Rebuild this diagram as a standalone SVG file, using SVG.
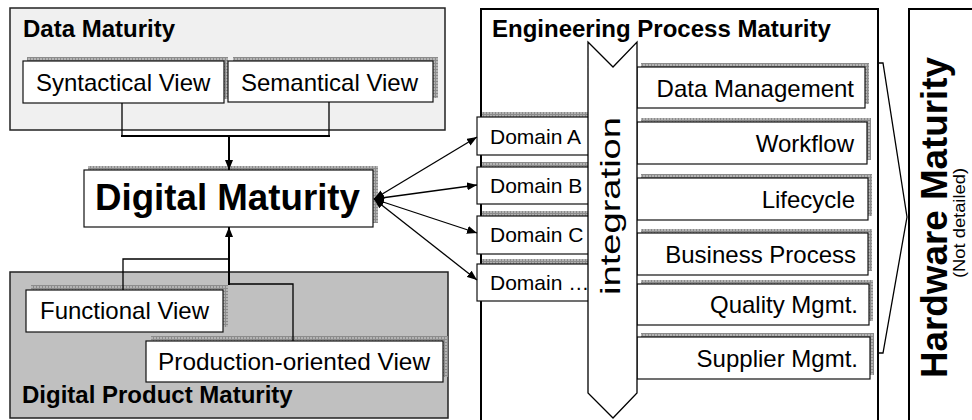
<svg xmlns="http://www.w3.org/2000/svg" width="972" height="420" viewBox="0 0 972 420">
<defs>
<pattern id="hatch" width="3" height="3" patternUnits="userSpaceOnUse">
<rect width="3" height="3" fill="#b4b4b4"/>
<rect width="1" height="3" fill="#8c8c8c"/>
<rect width="3" height="1" fill="#8c8c8c"/>
</pattern>
<marker id="ah" viewBox="0 0 10 8" refX="10" refY="4" markerWidth="10" markerHeight="8" markerUnits="userSpaceOnUse" orient="auto-start-reverse">
<path d="M0,0 L10,4 L0,8 z" fill="#000"/>
</marker>
<style>
.cont{stroke:#222;stroke-width:1.5}
.box{fill:#fff;stroke:#111;stroke-width:1.2}
.sh{fill:url(#hatch)}
.t{font-family:"Liberation Sans",Arial,sans-serif;font-size:24px;fill:#000}
.b{font-family:"Liberation Sans",Arial,sans-serif;font-weight:bold;font-size:24px;fill:#000}
.e{text-anchor:end}
.d{font-size:21px}
.ln{fill:none;stroke:#000;stroke-width:1.3}
.lt{fill:none;stroke:#000;stroke-width:2}
</style>
</defs>
<rect width="972" height="420" fill="#fff"/>

<g id="data-maturity">
<rect class="cont" x="10" y="8" width="435" height="122" fill="#f0f0f0"/>
<text class="b" x="23" y="37">Data Maturity</text>
</g>
<g id="syntactical-view">
<rect class="sh" x="27" y="57" width="201" height="42"/>
<rect class="box" x="23" y="61" width="201" height="42"/>
<text class="t" x="36" y="91">Syntactical View</text>
</g>
<g id="semantical-view">
<rect class="sh" x="233" y="57" width="205" height="41"/>
<rect class="box" x="228" y="61" width="205" height="41"/>
<text class="t" x="241" y="91">Semantical View</text>
</g>

<g id="product-maturity">
<rect class="cont" x="10" y="272" width="438" height="146" fill="#c0c0c0"/>
<text class="b" x="22" y="403">Digital Product Maturity</text>
</g>
<g id="functional-view">
<rect class="sh" x="31" y="285" width="197" height="42"/>
<rect class="box" x="26" y="290" width="197" height="42"/>
<text class="t" x="40" y="319">Functional View</text>
</g>
<g id="production-view">
<rect class="sh" x="151" y="336" width="297" height="41"/>
<rect class="box" x="146" y="341" width="297" height="41"/>
<text class="t" x="158" y="370" textLength="272" lengthAdjust="spacingAndGlyphs">Production-oriented View</text>
</g>

<g id="digital-maturity">
<rect class="sh" x="88" y="166" width="290" height="57"/>
<rect class="box" x="84" y="170" width="289" height="57"/>
<text class="b" x="95" y="210" style="font-size:36.5px" textLength="265" lengthAdjust="spacingAndGlyphs">Digital Maturity</text>
</g>

<g id="engineering-process-maturity">
<rect x="481" y="9" width="397" height="412" fill="#fff" stroke="#000" stroke-width="2"/>
<text class="b" x="492" y="37">Engineering Process Maturity</text>
</g>

<g id="domain-a">
<rect class="sh" x="482" y="112" width="107" height="38"/>
<rect class="box" x="477" y="117" width="112" height="38"/>
<text class="t d" x="490" y="144">Domain A</text>
</g>
<g id="domain-b">
<rect class="sh" x="482" y="162" width="107" height="37"/>
<rect class="box" x="477" y="167" width="112" height="37"/>
<text class="t d" x="490" y="193">Domain B</text>
</g>
<g id="domain-c">
<rect class="sh" x="482" y="211" width="107" height="38"/>
<rect class="box" x="477" y="216" width="112" height="38"/>
<text class="t d" x="490" y="242">Domain C</text>
</g>
<g id="domain-etc">
<rect class="sh" x="482" y="259" width="107" height="37"/>
<rect class="box" x="477" y="264" width="112" height="37"/>
<text class="t d" x="490" y="290">Domain …</text>
</g>

<g id="data-management">
<rect class="sh" x="641" y="63" width="228" height="41"/>
<rect class="box" x="637" y="67" width="228" height="41"/>
<text class="t e" x="854" y="97">Data Management</text>
</g>
<g id="workflow">
<rect class="sh" x="641" y="118" width="230" height="42"/>
<rect class="box" x="637" y="122" width="230" height="42"/>
<text class="t e" x="854" y="152">Workflow</text>
</g>
<g id="lifecycle">
<rect class="sh" x="641" y="174" width="231" height="42"/>
<rect class="box" x="637" y="178" width="231" height="42"/>
<text class="t e" x="855" y="208">Lifecycle</text>
</g>
<g id="business-process">
<rect class="sh" x="641" y="229" width="231" height="42"/>
<rect class="box" x="637" y="233" width="231" height="42"/>
<text class="t e" x="856" y="263">Business Process</text>
</g>
<g id="quality-mgmt">
<rect class="sh" x="641" y="280" width="232" height="41"/>
<rect class="box" x="637" y="284" width="232" height="41"/>
<text class="t e" x="858" y="313">Quality Mgmt.</text>
</g>
<g id="supplier-mgmt">
<rect class="sh" x="641" y="333" width="233" height="42"/>
<rect class="box" x="637" y="337" width="233" height="42"/>
<text class="t e" x="858" y="367">Supplier Mgmt.</text>
</g>

<g id="integration">
<polygon points="588,42 613,67 637,42 637,393 613,418 588,393" fill="#fff" stroke="#000" stroke-width="1.3"/>
<text class="t" transform="translate(620,206) rotate(-90)" x="-89" y="0" style="font-size:28px" textLength="178" lengthAdjust="spacingAndGlyphs">integration</text>
</g>

<g id="hardware-maturity">
<rect x="909" y="9" width="70" height="412" fill="#fff" stroke="#000" stroke-width="2"/>
<text class="b" transform="translate(947,217.5) rotate(-90)" x="-160.5" y="0" style="font-size:36px" textLength="321" lengthAdjust="spacingAndGlyphs">Hardware Maturity</text>
<text class="t" transform="translate(965,223) rotate(-90)" x="-55" y="0" style="font-size:17px" textLength="110" lengthAdjust="spacingAndGlyphs">(Not detailed)</text>
</g>

<g id="connectors">
<polyline class="ln" points="122,103 122,136"/>
<polyline class="ln" points="329,102 329,136"/>
<line class="lt" x1="121" y1="136" x2="330" y2="136"/>
<line class="lt" x1="229" y1="136" x2="229" y2="170" marker-end="url(#ah)"/>
<polyline class="ln" points="123,290 123,259 229,259"/>
<polyline class="ln" points="293,341 293,284 229,284"/>
<line class="lt" x1="229" y1="285" x2="229" y2="227" marker-end="url(#ah)"/>
<line class="ln" x1="374" y1="199" x2="477" y2="137" marker-start="url(#ah)" marker-end="url(#ah)"/>
<line class="ln" x1="374" y1="199" x2="477" y2="185" marker-start="url(#ah)" marker-end="url(#ah)"/>
<line class="ln" x1="374" y1="199" x2="477" y2="233" marker-start="url(#ah)" marker-end="url(#ah)"/>
<line class="ln" x1="374" y1="199" x2="477" y2="280" marker-start="url(#ah)" marker-end="url(#ah)"/>
<polyline fill="none" stroke="#000" stroke-width="1.3" points="878,63 883,63 907,217 883,353 878,353"/>
</g>
</svg>
